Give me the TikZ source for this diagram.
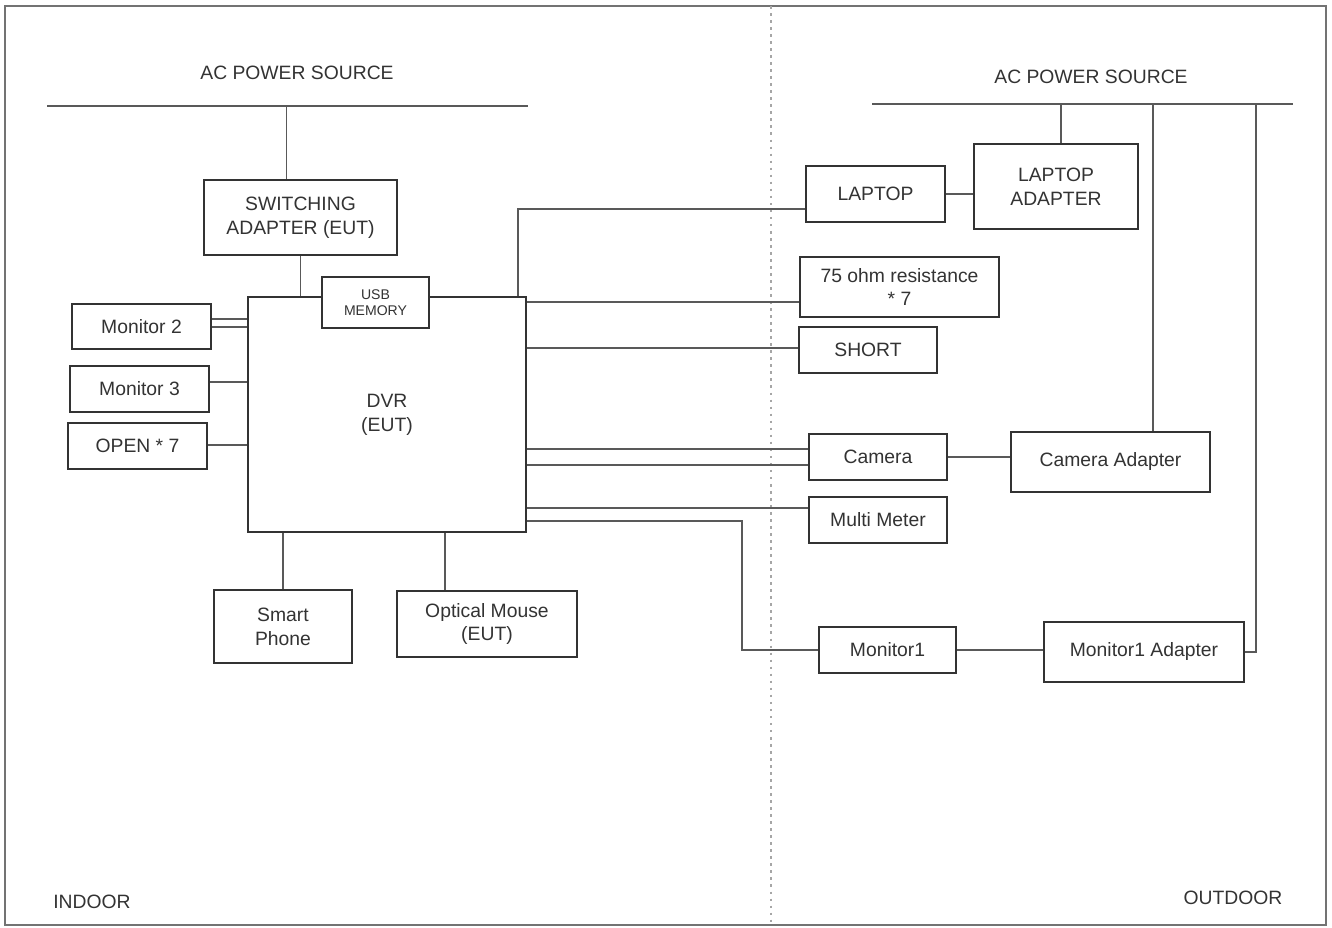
\documentclass[tikz,border=0pt]{standalone}
\usepackage{fontspec}
\setmainfont{Liberation Sans}
\usetikzlibrary{calc}

\tikzset{
  eqbox/.style={draw=black!80, line width=1.4pt, fill=white, align=center,
    inner sep=0pt, text=black!80, font=\fontsize{11}{13.5}\selectfont},
  boxsize/.style 2 args={minimum width=#1*0.02cm, minimum height=#2*0.02cm},
  cable/.style={draw=black!65, line width=0.9pt},
  mainsline/.style={draw=black!65, line width=1.6pt},
  zonelabel/.style={text=black!80, font=\fontsize{11}{13.5}\selectfont}
}

\begin{document}
\begin{tikzpicture}[x=0.02cm, y=-0.02cm]
  \useasboundingbox (0,0) rectangle (1332,928);
  % frame and indoor/outdoor split
  \draw[black!55, line width=1.2pt] (5,6) rectangle (1326,925);
  \draw[black!35, line width=0.8pt, dash pattern=on 1.5pt off 2.5pt] (771,6) -- (771,925);
  \node[zonelabel] (indoor) at (92,902) {INDOOR};
  \node[zonelabel] (outdoor) at (1233,898) {OUTDOOR};

  % mains
  \node[zonelabel] (acleft) at (297,73) {AC POWER SOURCE};
  \node[zonelabel] (acright) at (1091,77) {AC POWER SOURCE};
  \coordinate (acL1) at (47,106);  \coordinate (acL2) at (528,106);
  \coordinate (acR1) at (872,104); \coordinate (acR2) at (1293,104);
  \coordinate (acR3) at (1256,104);
  \draw[mainsline] (acL1) -- (acL2);
  \draw[mainsline] (acR1) -- (acR2);

  % indoor units
  \node[eqbox, boxsize={193}{75}] (sw) at (300.5,217.5) {SWITCHING\\ADAPTER (EUT)};
  \node[eqbox, boxsize={278}{235}] (dvr) at (387,414.5) {DVR\\(EUT)};
  \node[eqbox, boxsize={107}{51}, font=\fontsize{8}{9}\selectfont] (usb) at (375.5,302.5) {USB\\MEMORY};
  \node[eqbox, boxsize={139}{45}] (mon2) at (141.5,326.5) {Monitor 2};
  \node[eqbox, boxsize={139}{46}] (mon3) at (139.5,389) {Monitor 3};
  \node[eqbox, boxsize={139}{46}] (open) at (137.5,446) {OPEN * 7};
  \node[eqbox, boxsize={138}{73}] (phone) at (283,626.5) {Smart\\Phone};
  \node[eqbox, boxsize={180}{66}] (mouse) at (487,624) {Optical Mouse\\(EUT)};

  % outdoor units
  \node[eqbox, boxsize={139}{56}] (laptop) at (875.5,194) {LAPTOP};
  \node[eqbox, boxsize={164}{85}] (lapad) at (1056,186.5) {LAPTOP\\ADAPTER};
  \node[eqbox, boxsize={199}{60}] (ohm) at (899.5,287) {75 ohm resistance\\* 7};
  \node[eqbox, boxsize={138}{46}] (short) at (868,350) {SHORT};
  \node[eqbox, boxsize={138}{46}] (cam) at (878,457) {Camera};
  \node[eqbox, boxsize={199}{60}] (camad) at (1110.5,462) {Camera Adapter};
  \node[eqbox, boxsize={138}{46}] (meter) at (878,520) {Multi Meter};
  \node[eqbox, boxsize={137}{46}] (mon1) at (887.5,650) {Monitor1};
  \node[eqbox, boxsize={200}{60}] (mon1ad) at (1144,652) {Monitor1 Adapter};

  % power feeds
  \draw[cable] ($(sw.north)+(-14,0)$) coordinate (swin) -- (swin |- acL1);
  \draw[cable] (sw.south) -- (sw.south |- dvr.north);
  \draw[cable] ($(lapad.north)+(5,0)$) coordinate (lapin) -- (lapin |- acR1);
  \draw[cable] ($(camad.north)+(42.5,0)$) coordinate (camin) -- (camin |- acR1);
  \draw[cable] (mon1ad.east) -| (acR3);

  % dvr ports, left side
  \foreach \dy/\tgt in {23/mon2, 31/mon2, 86/mon3, 149/open}
    \draw[cable] ($(dvr.north west)+(0,\dy)$) coordinate (port) -- (port -| \tgt.east);

  % dvr ports, right side
  \foreach \dy/\tgt in {6/ohm, 52/short, 153/cam, 169/cam, 212/meter}
    \draw[cable] ($(dvr.north east)+(0,\dy)$) coordinate (port) -- (port -| \tgt.west);
  \draw[cable] ($(dvr.north east)+(0,225)$) -- ++(215,0) |- (mon1.west);
  \draw[cable] ($(dvr.north east)+(-9,0)$) |- ($(laptop.west)+(0,15)$);

  % dvr ports, bottom
  \draw[cable] (phone.north) -- (phone.north |- dvr.south);
  \draw[cable] ($(mouse.north)+(-42,0)$) coordinate (mousein) -- (mousein |- dvr.south);

  % adapters
  \draw[cable] (laptop.east) -- (laptop.east -| lapad.west);
  \draw[cable] (cam.east) -- (cam.east -| camad.west);
  \draw[cable] (mon1.east) -- (mon1.east -| mon1ad.west);
\end{tikzpicture}
\end{document}
